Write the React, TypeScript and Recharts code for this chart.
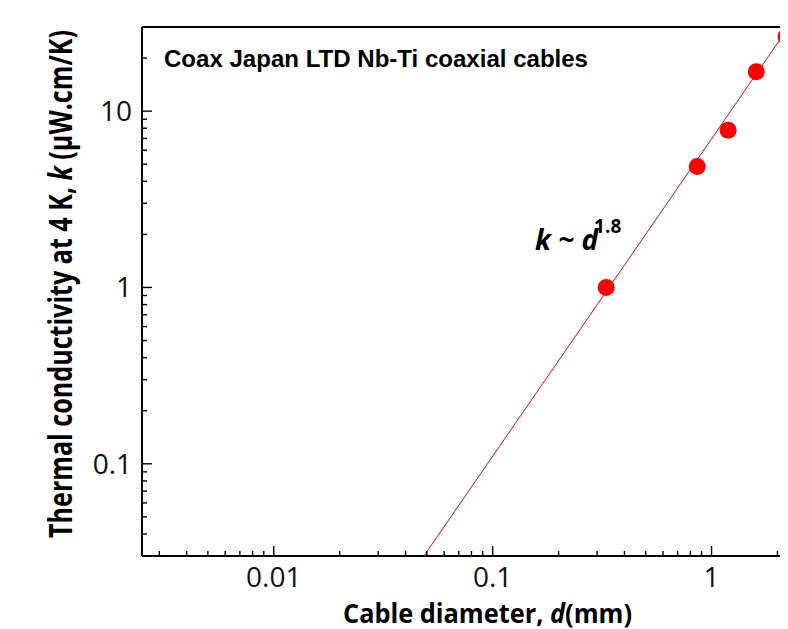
import React from 'react'
import { ScatterChart, Scatter, XAxis, YAxis, ReferenceLine } from 'recharts'

// measured cable data: diameter (mm) vs thermal conductivity at 4 K (uW.cm/K)
const DIAMETERS = [0.33, 0.86, 1.19, 1.6, 2.19]
const CONDUCTIVITY = [1.0, 4.85, 7.8, 16.7, 26.5]

// k ~ d^1.8 guide line, read at the plot edges
const FIT_D = [0.0485, 2.25]
const FIT_K = [0.03, 30]

const X_DOMAIN = [0.0025, 3]
const Y_DOMAIN = [0.03, 30]

const X_TICKS = [
  0.003, 0.004, 0.005, 0.006, 0.007, 0.008, 0.009,
  0.01, 0.02, 0.03, 0.04, 0.05, 0.06, 0.07, 0.08, 0.09,
  0.1, 0.2, 0.3, 0.4, 0.5, 0.6, 0.7, 0.8, 0.9,
  1, 2, 3,
]
const Y_TICKS = [
  0.03, 0.04, 0.05, 0.06, 0.07, 0.08, 0.09,
  0.1, 0.2, 0.3, 0.4, 0.5, 0.6, 0.7, 0.8, 0.9,
  1, 2, 3, 4, 5, 6, 7, 8, 9,
  10, 20, 30,
]

const points = DIAMETERS.map((d, i) => ({ d, k: CONDUCTIVITY[i] }))
const fit = FIT_D.map((d, i) => ({ d, k: FIT_K[i] }))

const TICK_FONT = '"Open Sans", sans-serif'

const isMajor = (v: number) => {
  const l = Math.log10(v)
  return Math.abs(l - Math.round(l)) < 1e-6
}

// eslint-disable-next-line @typescript-eslint/no-explicit-any
function XTick({ x, y, payload }: any) {
  const v = payload.value
  const major = isMajor(v)
  return (
    <g>
      <line x1={x} y1={y} x2={x} y2={y - (major ? 10 : 5)} stroke="#000" strokeWidth={1.4} />
      {major && (
        <text x={x} y={y + 31} textAnchor="middle" fontFamily={TICK_FONT} fontSize={28} fill="#111">
          {String(v)}
        </text>
      )}
    </g>
  )
}

// eslint-disable-next-line @typescript-eslint/no-explicit-any
function YTick({ x, y, payload }: any) {
  const v = payload.value
  const major = isMajor(v)
  return (
    <g>
      <line x1={x} y1={y} x2={x + (major ? 10 : 5)} y2={y} stroke="#000" strokeWidth={1.4} />
      {major && (
        <text x={x - 10} y={y + 10} textAnchor="end" fontFamily={TICK_FONT} fontSize={28} fill="#111">
          {String(v)}
        </text>
      )}
    </g>
  )
}

// eslint-disable-next-line @typescript-eslint/no-explicit-any
const Dot = (p: any) => <circle cx={p.cx} cy={p.cy} r={8.5} fill="#ff0000" />
const NoDot = () => <g />

export default function App() {
  return (
    <div style={{ position: 'relative', width: 780, height: 621, overflow: 'hidden' }}>
      <ScatterChart width={830} height={621} margin={{ top: 19, right: 22, left: 0, bottom: 0 }}>
        <XAxis
          type="number"
          dataKey="d"
          scale="log"
          domain={X_DOMAIN}
          allowDataOverflow
          ticks={X_TICKS}
          interval={0}
          tickLine={false}
          tickSize={0}
          tickMargin={0}
          tick={<XTick />}
          height={73}
          axisLine={{ stroke: '#000', strokeWidth: 2 }}
        />
        <YAxis
          type="number"
          dataKey="k"
          scale="log"
          domain={Y_DOMAIN}
          allowDataOverflow
          ticks={Y_TICKS}
          interval={0}
          tickLine={false}
          tickSize={0}
          tickMargin={0}
          tick={<YTick />}
          width={134}
          axisLine={{ stroke: '#000', strokeWidth: 2 }}
        />
        <ReferenceLine y={30} stroke="#000" strokeWidth={2} />
        <Scatter
          data={fit}
          line={{ stroke: '#ff0000', strokeWidth: 1 }}
          shape={NoDot}
          isAnimationActive={false}
        />
        <Scatter data={points} shape={Dot} isAnimationActive={false} />
      </ScatterChart>
      <svg
        width={830}
        height={621}
        style={{ position: 'absolute', left: 0, top: 0, pointerEvents: 'none' }}
      >
        <text
          x={156}
          y={59}
          fontFamily='"Liberation Sans", Arial, sans-serif'
          fontWeight="bold"
          fontSize={24}
          textLength={424}
          lengthAdjust="spacingAndGlyphs"
          fill="#000"
        >
          Coax Japan LTD Nb-Ti coaxial cables
        </text>
        <text
          x={527}
          y={242}
          fontFamily={TICK_FONT}
          fontWeight="bold"
          fontStyle="italic"
          fontSize={28}
          fill="#000"
        >
          k ~ d
          <tspan fontSize={19} fontStyle="normal" dy={-17} dx={-4}>1.8</tspan>
        </text>
        <text
          transform="translate(64,276) rotate(-90)"
          textAnchor="middle"
          fontFamily={TICK_FONT}
          fontWeight="bold"
          fontSize={32}
          textLength={508}
          lengthAdjust="spacingAndGlyphs"
          fill="#000"
        >
          Thermal conductivity at 4 K, <tspan fontStyle="italic">k</tspan> (μW.cm/K)
        </text>
        <text
          x={335}
          y={615}
          fontFamily={TICK_FONT}
          fontWeight="bold"
          fontSize={26}
          textLength={289}
          lengthAdjust="spacingAndGlyphs"
          fill="#000"
        >
          Cable diameter, <tspan fontStyle="italic">d</tspan>(mm)
        </text>
      </svg>
    </div>
  )
}
